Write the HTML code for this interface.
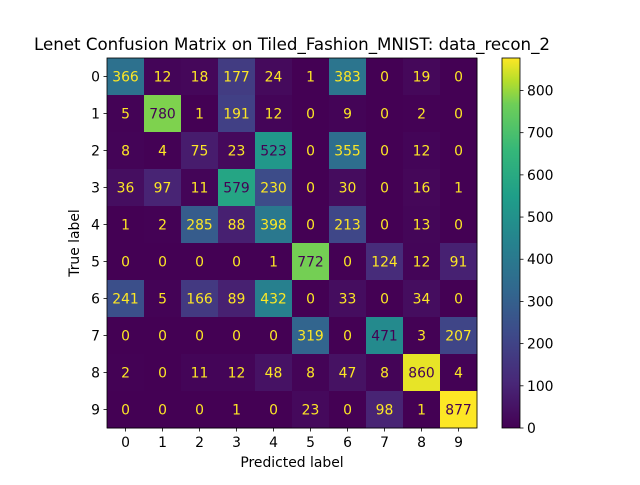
<!DOCTYPE html>
<html><head><meta charset="utf-8"><style>
body{margin:0;background:#fff;font-family:"Liberation Sans","DejaVu Sans",sans-serif;}
svg text{font-family:"DejaVu Sans","Liberation Sans",sans-serif;}
</style></head><body>
<svg id="chart" width="640" height="480" xmlns="http://www.w3.org/2000/svg">
<rect width="640" height="480" fill="#fff"/>
<text x="292" y="50" font-size="16.67" text-anchor="middle">Lenet Confusion Matrix on Tiled_Fashion_MNIST: data_recon_2</text>
<text x="292" y="467" font-size="13.9" text-anchor="middle">Predicted label</text>
<text x="0" y="0" font-size="13.9" text-anchor="middle" transform="translate(79,243) rotate(-90)">True label</text>
<defs><linearGradient id="cbg" x1="0" y1="1" x2="0" y2="0"></linearGradient></defs>
<g id="cells"></g><g id="xt"></g><g id="yt"></g><g id="cb"></g>
</svg>
<script>
const categories=["0","1","2","3","4","5","6","7","8","9"];
const row0=[366,12,18,177,24,1,383,0,19,0];
const row1=[5,780,1,191,12,0,9,0,2,0];
const row2=[8,4,75,23,523,0,355,0,12,0];
const row3=[36,97,11,579,230,0,30,0,16,1];
const row4=[1,2,285,88,398,0,213,0,13,0];
const row5=[0,0,0,0,1,772,0,124,12,91];
const row6=[241,5,166,89,432,0,33,0,34,0];
const row7=[0,0,0,0,0,319,0,471,3,207];
const row8=[2,0,11,12,48,8,47,8,860,4];
const row9=[0,0,0,1,0,23,0,98,1,877];
const matrix=[row0,row1,row2,row3,row4,row5,row6,row7,row8,row9];
const cbTicks=[0,100,200,300,400,500,600,700,800];
const NS="http://www.w3.org/2000/svg";
const stops=[[0,"#440154"],[0.125,"#482878"],[0.25,"#3e4989"],[0.375,"#31688e"],[0.5,"#26828e"],[0.625,"#1f9e89"],[0.75,"#35b779"],[0.875,"#6ece58"],[0.9375,"#b5de2b"],[1,"#fde725"]];
function hx(h){return [1,3,5].map(i=>parseInt(h.substr(i,2),16));}
function viridis(t){t=Math.max(0,Math.min(1,t));for(let i=1;i<stops.length;i++){if(t<=stops[i][0]){const a=stops[i-1],b=stops[i];const f=(t-a[0])/(b[0]-a[0]);const c1=hx(a[1]),c2=hx(b[1]);return "rgb("+c1.map((v,k)=>Math.round(v+(c2[k]-v)*f)).join(",")+")";}}return stops[stops.length-1][1];}
const vmin=Math.min(...matrix.flat()),vmax=Math.max(...matrix.flat());
const X0=107,Y0=58,S=370,n=categories.length,cw=S/n;
const xs=i=>X0+i*cw, ys=i=>Y0+i*cw;
function el(tag,attrs,parent){const e=document.createElementNS(NS,tag);for(const k in attrs)e.setAttribute(k,attrs[k]);parent.appendChild(e);return e;}
const cells=document.getElementById('cells');
const thr=(vmax+vmin)/2;
matrix.forEach((row,r)=>row.forEach((v,c)=>{
 const rc=el('rect',{x:xs(c),y:ys(r),width:cw+0.5,height:cw+0.5,fill:viridis((v-vmin)/(vmax-vmin))},cells);
 
 
 const t=el('text',{x:xs(c)+cw/2,y:ys(r)+cw/2+5,'font-size':13.9,'text-anchor':'middle',fill:v<thr?'#fde725':'#440154'},cells);
 t.textContent=v;
 
 
}));
const fr=el('rect',{x:X0,y:Y0,width:S,height:S,fill:'none',stroke:'#000','stroke-width':0.8},cells);


const xt=document.getElementById('xt'),yt=document.getElementById('yt');
categories.forEach((c,i)=>{
 el('line',{x1:xs(i)+cw/2,x2:xs(i)+cw/2,y1:Y0+S,y2:Y0+S+3.5,stroke:'#000','stroke-width':0.8},xt);
 const t=el('text',{x:xs(i)+cw/2,y:Y0+S+19,'font-size':13.9,'text-anchor':'middle'},xt);t.textContent=c;
 
 
 el('line',{x1:X0-3.5,x2:X0,y1:ys(i)+cw/2,y2:ys(i)+cw/2,stroke:'#000','stroke-width':0.8},yt);
 const u=el('text',{x:X0-7,y:ys(i)+cw/2+5,'font-size':13.9,'text-anchor':'end'},yt);u.textContent=c;
 
 
});
const cb=document.getElementById('cb');
const CX=502,CW=18;
const g=document.getElementById('cbg');
stops.forEach(s=>el('stop',{offset:s[0],'stop-color':s[1]},g));
const cbr=el('rect',{x:CX,y:Y0,width:CW,height:S,fill:'url(#cbg)',stroke:'#000','stroke-width':0.8},cb);


const cy=v=>Y0+S-(v-vmin)/(vmax-vmin)*S;
cbTicks.forEach(v=>{
 el('line',{x1:CX+CW,x2:CX+CW+3.5,y1:cy(v),y2:cy(v),stroke:'#000','stroke-width':0.8},cb);
 const t=el('text',{x:CX+CW+7,y:cy(v)+5,'font-size':13.9},cb);t.textContent=v;
 
 
});
</script>
</body></html>
